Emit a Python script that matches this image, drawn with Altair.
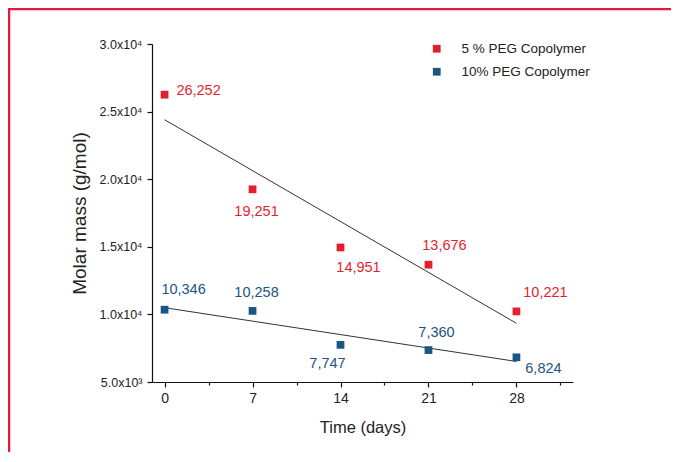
import altair as alt
import pandas as pd

days = [0, 7, 14, 21, 28]
series_names = ["5 % PEG Copolymer", "10% PEG Copolymer"]
peg5_mass = [26252, 19251, 14951, 13676, 10221]
peg10_mass = [10346, 10258, 7747, 7360, 6824]
peg5_labels = ["26,252", "19,251", "14,951", "13,676", "10,221"]
peg10_labels = ["10,346", "10,258", "7,747", "7,360", "6,824"]
# label placement offsets (pixels) relative to each point
peg5_dx = [34, 4, 18, 16, 29]
peg5_dy = [-4, 23, 21, -19, -18]
peg10_dx = [19, 4, -13, 8, 27]
peg10_dy = [-20, -18, 19, -17, 12]

colors = ["#e41f2d", "#1b5581"]

rows = []
for name, mass, labs in [
    (series_names[0], peg5_mass, peg5_labels),
    (series_names[1], peg10_mass, peg10_labels),
]:
    for d, m, l in zip(days, mass, labs):
        rows.append({"day": d, "mass": m, "series": name, "label": l})
df = pd.DataFrame(rows)

FONT = "Liberation Sans"

x_ticks = [0, 3.5, 7, 10.5, 14, 17.5, 21, 24.5, 28, 31.5]
y_ticks = list(range(5000, 30001, 2500))

x_enc = alt.X(
    "day:Q",
    scale=alt.Scale(domain=[-1, 32.5], nice=False, zero=False),
    axis=alt.Axis(
        values=x_ticks,
        labelExpr="datum.value % 7 === 0 ? datum.value : ''",
        title="Time (days)",
        tickSize={"condition": {"test": "datum.value % 7 === 0", "value": 5}, "value": 3},
        labelFontSize=14,
        labelPadding=4,
        titlePadding=14,
        titleFontSize=16.5,
    ),
)
y_enc = alt.Y(
    "mass:Q",
    scale=alt.Scale(domain=[5000, 30000], nice=False, zero=False),
    axis=alt.Axis(
        values=y_ticks,
        labelExpr="datum.value % 5000 === 0 ? (datum.value >= 10000 ? format(datum.value/10000, '.1f') + 'x10⁴' : format(datum.value/1000, '.1f') + 'x10³') : ''",
        title="Molar mass (g/mol)",
        tickSize={"condition": {"test": "datum.value % 5000 === 0", "value": 5}, "value": 3},
        labelFontSize=12.5,
        labelPadding=5,
        titlePadding=10,
        titleFontSize=19,
    ),
)

color_scale = alt.Scale(domain=series_names, range=colors)

base = alt.Chart(df)

points = base.mark_square(size=60, opacity=1).encode(
    x=x_enc,
    y=y_enc,
    color=alt.Color(
        "series:N",
        scale=color_scale,
        sort=series_names,
        legend=alt.Legend(
            title=None,
            orient="none",
            legendX=278,
            legendY=-2,
            symbolType="square",
            symbolSize=60,
            symbolStrokeWidth=0,
            symbolOpacity=1,
            labelFont=FONT,
            labelFontSize=13.5,
            labelColor="#222222",
            labelOffset=18,
            rowPadding=8,
        ),
    ),
)

reg = base.transform_regression(
    "day", "mass", groupby=["series"], extent=[0, 28]
).mark_line(color="#333333", strokeWidth=1).encode(
    x="day:Q", y="mass:Q", detail="series:N"
)

label_layers = []
for name, labs, dxs, dys, col in [
    (series_names[0], peg5_labels, peg5_dx, peg5_dy, colors[0]),
    (series_names[1], peg10_labels, peg10_dx, peg10_dy, colors[1]),
]:
    for lab, dx, dy in zip(labs, dxs, dys):
        label_layers.append(
            base.transform_filter(
                (alt.datum.series == name) & (alt.datum.label == lab)
            ).mark_text(
                font=FONT, fontSize=14.5, align="center", baseline="middle",
                dx=dx, dy=dy, color=col,
            ).encode(x="day:Q", y="mass:Q", text="label:N")
        )

frame_data = pd.DataFrame({"k": [0]})
frame_top = alt.Chart(frame_data).mark_rule(
    color="#e8173a", strokeWidth=2.5, clip=False
).encode(x=alt.value(-144), x2=alt.value(519), y=alt.value(-35))
frame_left = alt.Chart(frame_data).mark_rule(
    color="#e8173a", strokeWidth=2.5, clip=False
).encode(x=alt.value(-143), y=alt.value(-36), y2=alt.value(408))

chart = alt.layer(frame_top, frame_left, reg, points, *label_layers).properties(
    width=421,
    height=338,
    autosize=alt.AutoSizeParams(type="none"),
    padding={"left": 144, "top": 36, "right": 101, "bottom": 72},
).configure_view(stroke=None).configure_axis(
    domainColor="#111111",
    domainWidth=1.2,
    tickColor="#111111",
    tickWidth=1.2,
    grid=False,
    labelFont=FONT,
    labelColor="#222222",
    titleFont=FONT,
    titleFontWeight="normal",
    titleColor="#222222",
)

chart.save("out.html", embed_options={"renderer": "svg", "actions": False})
